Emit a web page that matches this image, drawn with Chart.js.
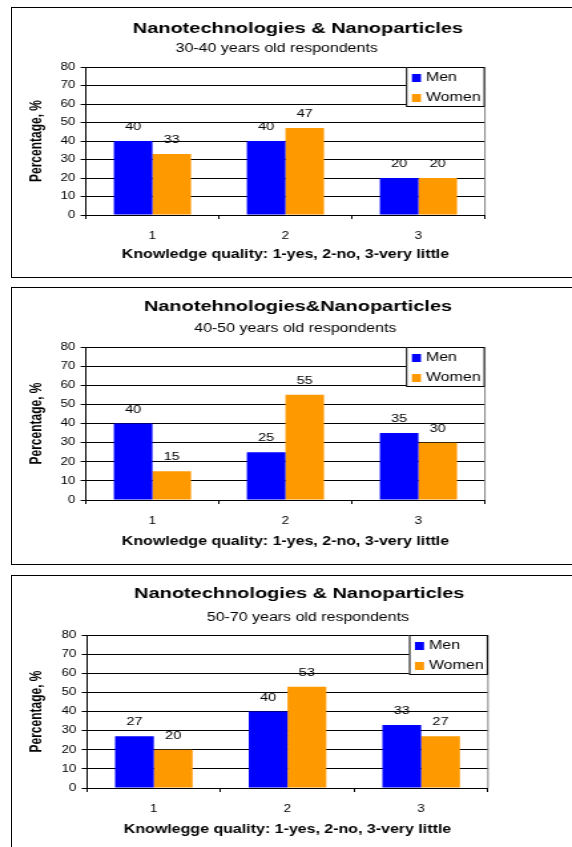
<!DOCTYPE html>
<html>
<head>
<meta charset="utf-8">
<title>Nanotechnologies & Nanoparticles</title>
<script src="https://cdn.jsdelivr.net/npm/chart.js"></script>
<style>
  html, body { margin: 0; padding: 0; background: #fff; width: 572px; height: 847px; overflow: hidden; }
  .panel { position: absolute; left: 11px; width: 640px; border: 1px solid #000; background: #fff; }
  .stretch { transform: scaleX(1.33); transform-origin: 0 0; width: 421px; }
  canvas { display: block; }
</style>
</head>
<body>
<div class="panel" style="top:7px;height:269px"><div class="stretch"><canvas id="chart1" width="421" height="269"></canvas></div></div>
<div class="panel" style="top:287px;height:276px"><div class="stretch"><canvas id="chart2" width="421" height="276"></canvas></div></div>
<div class="panel" style="top:575px;height:290px"><div class="stretch"><canvas id="chart3" width="421" height="271"></canvas></div></div>

<script>
// ====== DATA ====== //
const categories = ['1', '2', '3'];
const seriesNames = ['Men', 'Women'];
const seriesColors = ['#0000FF', '#FF9900'];

const men3040 = [40, 40, 20];
const women3040 = [33, 47, 20];
const men4050 = [40, 25, 35];
const women4050 = [15, 55, 30];
const men5070 = [27, 40, 33];
const women5070 = [20, 53, 27];

const yMin = 0;
const yMax = 80;
const yStep = 10;

const chartTitles = ['Nanotechnologies & Nanoparticles', 'Nanotehnologies&Nanoparticles', 'Nanotechnologies & Nanoparticles'];
const chartSubtitles = ['30-40 years old respondents', '40-50 years old respondents', '50-70 years old respondents'];
const xTitles = ['Knowledge quality: 1-yes, 2-no, 3-very little', 'Knowledge quality: 1-yes, 2-no, 3-very little', 'Knowlegge quality: 1-yes, 2-no, 3-very little'];
const yTitle = 'Percentage, %';

// ====== SETUP ====== //
const FONT = '"Liberation Sans", Arial, sans-serif';
const CANVAS_W = 421;
Chart.defaults.font.family = FONT;
Chart.defaults.color = '#000';

// title + subtitle, placed like the excel original
const panelText = {
    id: 'panelText',
    afterDraw(chart, args, opts) {
        const ctx = chart.ctx;
        ctx.save();
        ctx.fillStyle = '#000';
        ctx.textAlign = 'center';
        ctx.textBaseline = 'middle';
        ctx.font = 'bold 15px ' + FONT;
        ctx.fillText(opts.title, opts.titleX, opts.titleY);
        ctx.font = '12px ' + FONT;
        ctx.fillText(opts.subtitle, opts.subX, opts.subY);
        ctx.restore();
    }
};

// legend box in the top right corner of the plot
const boxLegend = {
    id: 'boxLegend',
    afterDraw(chart) {
        const { ctx, chartArea } = chart;
        const w = 59.4, h = 40;
        const x0 = chartArea.right - w;
        const y0 = chartArea.top;
        ctx.save();
        ctx.fillStyle = '#fff';
        ctx.fillRect(x0, y0, w, h);
        ctx.strokeStyle = '#000';
        ctx.lineWidth = 1;
        ctx.strokeRect(x0 + 0.5, y0 + 0.5, w - 1, h - 1);
        ctx.font = '12px ' + FONT;
        ctx.textAlign = 'left';
        ctx.textBaseline = 'middle';
        chart.data.datasets.forEach((ds, i) => {
            const cy = y0 + 10.5 + i * 20;
            ctx.fillStyle = ds.backgroundColor;
            ctx.fillRect(x0 + 4.5, cy - 3.5, 6.8, 8);
            ctx.fillStyle = '#000';
            ctx.fillText(ds.label, x0 + 15, cy);
        });
        ctx.restore();
    }
};

// values above bars + right frame of plot area
const barValues = {
    id: 'barValues',
    beforeDatasetsDraw(chart) {
        const { ctx, chartArea } = chart;
        ctx.save();
        ctx.strokeStyle = '#808080';
        ctx.lineWidth = 1;
        ctx.beginPath();
        ctx.moveTo(chartArea.right, chartArea.top);
        ctx.lineTo(chartArea.right, chartArea.bottom);
        ctx.stroke();
        ctx.restore();
    },
    afterDatasetsDraw(chart) {
        const ctx = chart.ctx;
        ctx.save();
        ctx.font = '11px ' + FONT;
        ctx.fillStyle = '#000';
        ctx.textAlign = 'center';
        ctx.textBaseline = 'middle';
        chart.data.datasets.forEach((ds, i) => {
            chart.getDatasetMeta(i).data.forEach((bar, j) => {
                ctx.fillText(String(ds.data[j]), bar.x, bar.y - 14);
            });
        });
        ctx.restore();
    }
};

function makeChart(canvasId, idx, men, women, box) {
    return new Chart(document.getElementById(canvasId), {
        type: 'bar',
        data: {
            labels: categories,
            datasets: [
                { label: seriesNames[0], data: men, backgroundColor: seriesColors[0], categoryPercentage: 0.58, barPercentage: 1, borderWidth: 0 },
                { label: seriesNames[1], data: women, backgroundColor: seriesColors[1], categoryPercentage: 0.58, barPercentage: 1, borderWidth: 0 }
            ]
        },
        options: {
            responsive: false,
            animation: false,
            devicePixelRatio: 1,
            events: [],
            layout: { padding: { top: box.top, right: CANVAS_W - box.right, bottom: 0, left: 0 } },
            plugins: {
                legend: { display: false },
                tooltip: { enabled: false },
                title: { display: false },
                panelText: {
                    title: chartTitles[idx], subtitle: chartSubtitles[idx],
                    titleX: box.titleX, titleY: box.titleY, subX: box.subX, subY: box.subY
                }
            },
            scales: {
                x: {
                    offset: true,
                    grid: { display: true, drawOnChartArea: false, drawTicks: true, tickLength: 4, color: '#000', offset: true },
                    border: { display: true, color: '#000' },
                    ticks: { font: { size: 10 }, color: '#000', padding: 11 },
                    title: {
                        display: true, text: xTitles[idx], color: '#000',
                        font: { size: 12, weight: 'bold', lineHeight: 1.2 },
                        padding: { top: 0, bottom: box.xTitlePad }
                    },
                    afterFit: (s) => { s.height = box.h - box.bottom; }
                },
                y: {
                    min: yMin,
                    max: yMax,
                    ticks: { stepSize: yStep, font: { size: 10 }, color: '#000', padding: 4 },
                    grid: { color: '#000', tickLength: 4 },
                    border: { display: true, color: '#000' },
                    title: {
                        display: true, text: yTitle, color: '#000',
                        font: { size: 12, weight: 'bold', lineHeight: 1.2 },
                        padding: { top: 11.6, bottom: 0 }
                    },
                    afterFit: (s) => { s.width = box.left; }
                }
            }
        },
        plugins: [panelText, boxLegend, barValues]
    });
}

makeChart('chart1', 0, men3040, women3040,
    { h: 269, left: 55.6, right: 355.6, top: 59, bottom: 207, titleX: 215, titleY: 21, subX: 199, subY: 41, xTitlePad: 14.8 });
makeChart('chart2', 1, men4050, women4050,
    { h: 276, left: 55.6, right: 355.6, top: 59, bottom: 212, titleX: 215, titleY: 19, subX: 213, subY: 41, xTitlePad: 14.8 });
makeChart('chart3', 2, men5070, women5070,
    { h: 271, left: 56.4, right: 357.9, top: 59, bottom: 212, titleX: 216, titleY: 18, subX: 222.5, subY: 42, xTitlePad: 9.8 });
</script>
</body>
</html>
